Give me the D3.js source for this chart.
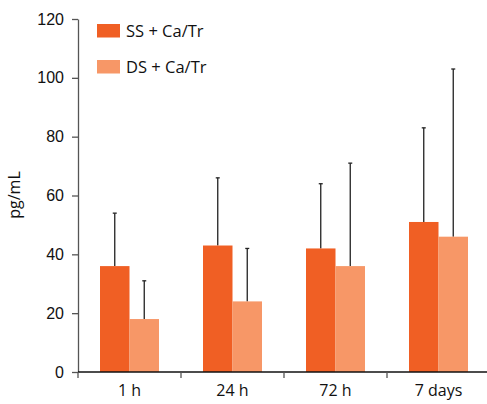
<!DOCTYPE html>
<html>
<head>
<meta charset="utf-8">
<script src="https://cdn.jsdelivr.net/npm/d3@7"></script>
<style>
  body { margin: 0; background: #fff; }
  svg { display: block; font-family: "Open Sans", "Noto Sans", sans-serif; }
</style>
</head>
<body>
<svg id="chart" width="487" height="404"></svg>
<script>
// data
const categories = ['1 h', '24 h', '72 h', '7 days'];
const seriesNames = ['SS + Ca/Tr', 'DS + Ca/Tr'];
const ssValues = [36, 43, 42, 51];
const dsValues = [18, 24, 36, 46];
const ssErrTop = [54, 66, 64, 83];
const dsErrTop = [31, 42, 71, 103];
const yTicks = [0, 20, 40, 60, 80, 100, 120];
const colors = ['#f05f24', '#f79767'];

const svg = d3.select('#chart');
const margin = { left: 78, top: 19, right: 0, bottom: 32 };
const innerWidth = 412;
const innerHeight = 353;

const g = svg.append('g').attr('transform', `translate(${margin.left}, ${margin.top})`);

const x = d3.scaleBand().domain(categories).range([0, innerWidth]);
const x1 = d3.scaleBand().domain(seriesNames).range([0, 59]);
const y = d3.scaleLinear().domain([0, 120]).range([innerHeight, 0]);

// y axis
const yAxis = d3.axisLeft(y).tickValues(yTicks).tickSize(6).tickSizeOuter(0);
const ya = g.append('g').call(yAxis);
ya.select('.domain').attr('stroke', '#555').attr('stroke-width', 1.3);
ya.selectAll('.tick line').attr('stroke', '#555').attr('stroke-width', 1.3);
ya.selectAll('.tick text').attr('font-size', 16).attr('fill', '#111').attr('x', -14);

// bars
const series = [
  { name: seriesNames[0], values: ssValues, err: ssErrTop, color: colors[0] },
  { name: seriesNames[1], values: dsValues, err: dsErrTop, color: colors[1] }
];

series.forEach(s => {
  const bx = i => x(categories[i]) + (x.bandwidth() - 59) / 2 + x1(s.name);
  const bw = x1.bandwidth();
  // error bars (upper only)
  g.selectAll(null).data(s.err).enter().append('line')
    .attr('x1', (d, i) => bx(i) + bw / 2)
    .attr('x2', (d, i) => bx(i) + bw / 2)
    .attr('y1', (d, i) => y(s.values[i]))
    .attr('y2', d => y(d))
    .attr('stroke', '#222').attr('stroke-width', 1.3);
  g.selectAll(null).data(s.err).enter().append('line')
    .attr('x1', (d, i) => bx(i) + bw / 2 - 2)
    .attr('x2', (d, i) => bx(i) + bw / 2 + 2)
    .attr('y1', d => y(d))
    .attr('y2', d => y(d))
    .attr('stroke', '#222').attr('stroke-width', 1.3);
  g.selectAll(null).data(s.values).enter().append('rect')
    .attr('x', (d, i) => bx(i))
    .attr('y', d => y(d))
    .attr('width', bw)
    .attr('height', d => innerHeight - y(d))
    .attr('fill', s.color);
});

// x axis, ticks at the band edges
const xa = g.append('g').attr('transform', `translate(0, ${innerHeight})`);
xa.append('line').attr('x1', 0).attr('x2', innerWidth).attr('stroke', '#111').attr('stroke-width', 1.5);
xa.selectAll(null).data(categories).enter().append('line')
  .attr('x1', d => x(d)).attr('x2', d => x(d))
  .attr('y1', 0).attr('y2', 6)
  .attr('stroke', '#555').attr('stroke-width', 1.3);
xa.selectAll(null).data(categories).enter().append('text')
  .attr('x', d => x(d) + x.bandwidth() / 2)
  .attr('y', 24)
  .attr('text-anchor', 'middle')
  .attr('font-size', 16)
  .attr('fill', '#111')
  .text(d => d);

// y label
svg.append('text')
  .attr('transform', 'translate(20, 195) rotate(-90)')
  .attr('text-anchor', 'middle')
  .attr('font-size', 16)
  .attr('fill', '#111')
  .text('pg/mL');

// legend
const lg = svg.append('g').attr('transform', 'translate(97, 24)');
series.forEach((s, i) => {
  lg.append('rect').attr('x', 0).attr('y', i * 36).attr('width', 23).attr('height', 13.5).attr('fill', s.color);
  lg.append('text').attr('x', 29).attr('y', i * 36 + 12.5)
    .attr('font-size', 16.5).attr('fill', '#111').text(s.name);
});
</script>
</body>
</html>
